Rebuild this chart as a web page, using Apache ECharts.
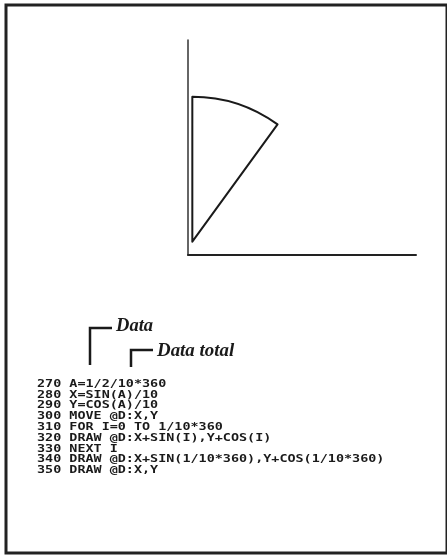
<!DOCTYPE html>
<html>
<head>
<meta charset="utf-8">
<script src="https://cdn.jsdelivr.net/npm/echarts@6/dist/echarts.min.js"></script>
<style>
  html, body { margin: 0; padding: 0; background: #fff; }
  #main { width: 447px; height: 555px; }
</style>
</head>
<body>
<div id="main"></div>
<script>
// one slice out of a total of ten (A = 1/2/10*360)
const sliceNames = ['Data', 'Rest'];
const sliceValues = [1, 9];

const codeLines = [
  '270 A=1/2/10*360',
  '280 X=SIN(A)/10',
  '290 Y=COS(A)/10',
  '300 MOVE @D:X,Y',
  '310 FOR I=0 TO 1/10*360',
  '320 DRAW @D:X+SIN(I),Y+COS(I)',
  '330 NEXT I',
  '340 DRAW @D:X+SIN(1/10*360),Y+COS(1/10*360)',
  '350 DRAW @D:X,Y'
];

// plot area (axes origin is bottom-left corner)
const gridLeft = 188, gridTop = 40, gridRight = 31, gridBottom = 300;
const originX = gridLeft, originY = 555 - gridBottom;

const myChart = echarts.init(document.getElementById('main'));

const ink = '#1a1a1a';

let graphics = [
  // page frame (right edge runs off the page)
  {
    type: 'rect',
    shape: { x: 6, y: 5, width: 441, height: 548 },
    style: { fill: 'none', stroke: '#222', lineWidth: 3 }
  },
  // bracket for "Data"
  {
    type: 'polyline',
    shape: { points: [[90, 365], [90, 328], [112, 328]] },
    style: { fill: 'none', stroke: ink, lineWidth: 2.5 }
  },
  {
    type: 'text', x: 116, y: 326, scaleX: 1.03,
    style: { text: 'Data', font: 'italic bold 18px "Liberation Serif"', fill: ink, verticalAlign: 'middle' }
  },
  // bracket for "Data total"
  {
    type: 'polyline',
    shape: { points: [[131, 367], [131, 350], [153, 350]] },
    style: { fill: 'none', stroke: ink, lineWidth: 2.5 }
  },
  {
    type: 'text', x: 157, y: 351, scaleX: 1.05,
    style: { text: 'Data total', font: 'italic bold 18px "Liberation Serif"', fill: ink, verticalAlign: 'middle' }
  }
];

codeLines.forEach((line, i) => {
  graphics.push({
    type: 'text',
    x: 37,
    y: 384 + i * 10.8,
    scaleX: 1.22,
    style: { text: line, font: 'bold 11px "DejaVu Sans Mono"', fill: ink, verticalAlign: 'middle' }
  });
});

let option = {
  animation: false,
  backgroundColor: '#fff',
  grid: { left: gridLeft, top: gridTop, right: gridRight, bottom: gridBottom },
  xAxis: {
    type: 'value', min: 0, max: 1,
    axisLine: { show: true, lineStyle: { color: '#222', width: 2 } },
    axisTick: { show: false }, axisLabel: { show: false }, splitLine: { show: false }
  },
  yAxis: {
    type: 'value', min: 0, max: 1,
    axisLine: { show: true, lineStyle: { color: '#333', width: 1.5 } },
    axisTick: { show: false }, axisLabel: { show: false }, splitLine: { show: false }
  },
  series: [
    {
      type: 'pie',
      center: [originX, originY],
      radius: 145,
      startAngle: 90,
      clockwise: true,
      selectedMode: 'single',
      selectedOffset: 14,
      silent: true,
      label: { show: false },
      labelLine: { show: false },
      emphasis: { disabled: true },
      data: sliceValues.map((v, i) => ({
        name: sliceNames[i],
        value: v,
        selected: i === 0,
        itemStyle: i === 0
          ? { color: '#fff', borderColor: ink, borderWidth: 2 }
          : { color: 'rgba(0,0,0,0)', borderWidth: 0 }
      }))
    }
  ],
  graphic: graphics
};
myChart.setOption(option);
</script>
</body>
</html>
